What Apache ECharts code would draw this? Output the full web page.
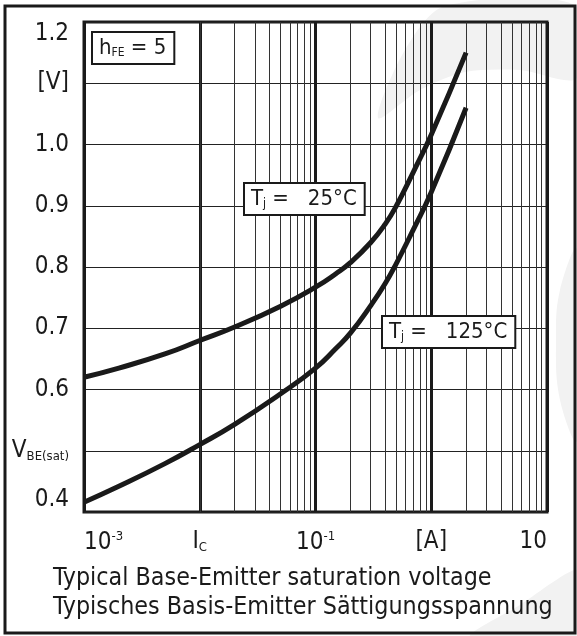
<!DOCTYPE html>
<html>
<head>
<meta charset="utf-8">
<script src="https://cdn.jsdelivr.net/npm/echarts@6/dist/echarts.min.js"></script>
<style>
  html, body { margin: 0; padding: 0; background: #fff; }
  #chart { width: 577px; height: 636px; }
</style>
</head>
<body>
<div id="chart"></div>
<script>
// collector current Ic [A], base-emitter saturation voltage [V]
var current25 = [0.001, 0.002, 0.005, 0.01, 0.02, 0.05, 0.1, 0.15, 0.2, 0.3, 0.4, 0.5, 0.7, 1.0, 2.0];
var vbe25     = [0.620, 0.635, 0.658, 0.680, 0.702, 0.736, 0.767, 0.789, 0.807, 0.840, 0.870, 0.900, 0.955, 1.016, 1.150];
var current125 = [0.001, 0.002, 0.005, 0.01, 0.02, 0.05, 0.1, 0.15, 0.2, 0.3, 0.4, 0.5, 0.7, 1.0, 2.0];
var vbe125     = [0.416, 0.442, 0.479, 0.510, 0.543, 0.593, 0.635, 0.667, 0.692, 0.737, 0.773, 0.806, 0.861, 0.922, 1.060];

var xTickLabels = ['{b|10}{sup|-3}', '{b|I}{sub|C}', '{b|10}{sup|-1}', '{b|[A]}', '{b|10}'];
var yTickLabels = ['0.4', '{b|V}{sub|BE(sat)}', '0.6', '0.7', '0.8', '0.9', '1.0', '[V]', '1.2'];
var minorX = [];
[0.001, 0.01, 0.1, 1].forEach(function (d) {
    for (var k = 2; k <= 9; k++) minorX.push(+(d * k).toPrecision(3));
});

var font = '"DejaVu Sans Condensed", "DejaVu Sans", sans-serif';
var ink = '#1a1a1a';
var shade = '#f2f2f2';

function pairs(xs, ys) {
    return xs.map(function (x, i) { return [x, ys[i]]; });
}

function boxLabel(text, left, top) {
    return {
        type: 'text', z: 100, left: left, top: top,
        style: {
            text: text,
            backgroundColor: '#fff', borderColor: ink, borderWidth: 2,
            padding: [4, 7, 4, 6],
            rich: {
                b: { fontSize: 22, fontFamily: font, fill: ink },
                s: { fontSize: 12, fontFamily: font, fill: ink, verticalAlign: 'bottom', padding: [9, 0, 0, 0] }
            }
        }
    };
}

var chart = echarts.init(document.getElementById('chart'), null, { renderer: 'canvas' });

var option = {
    backgroundColor: '#fff',
    animation: false,
    textStyle: { fontFamily: font, color: ink },
    grid: {
        left: 84, right: 30, top: 22, bottom: 124,
        show: true, borderColor: ink, borderWidth: 3, backgroundColor: 'transparent'
    },
    xAxis: {
        type: 'log', logBase: 10, min: 0.001, max: 10,
        axisLine: { show: false },
        axisTick: { show: false },
        splitLine: { show: true, lineStyle: { color: ink, width: 3 } },
        axisLabel: {
            margin: 18,
            alignMinLabel: 'left',
            alignMaxLabel: 'right',
            formatter: function (v) {
                var i = Math.round(Math.log10(v)) + 3;
                return xTickLabels[i] || '';
            },
            rich: {
                b: { fontSize: 24, fontFamily: font, color: ink },
                sup: { fontSize: 13, fontFamily: font, color: ink, verticalAlign: 'top', padding: [0, 0, 12, 0] },
                sub: { fontSize: 13, fontFamily: font, color: ink, verticalAlign: 'bottom', padding: [10, 0, 0, 0] }
            }
        }
    },
    yAxis: {
        type: 'value', min: 0.4, max: 1.2, interval: 0.1,
        axisLine: { show: false },
        axisTick: { show: false },
        splitLine: { show: true, lineStyle: { color: '#222', width: 1 } },
        axisLabel: {
            margin: 15,
            fontSize: 24,
            color: ink,
            verticalAlignMinLabel: 'bottom',
            verticalAlignMaxLabel: 'top',
            formatter: function (v) {
                var i = Math.round((v - 0.4) * 10);
                return yTickLabels[i];
            },
            rich: {
                b: { fontSize: 24, fontFamily: font, color: ink },
                sub: { fontSize: 13, fontFamily: font, color: ink, verticalAlign: 'bottom', padding: [10, 0, 0, 0] }
            }
        }
    },
    series: [
        {
            type: 'line', data: [], z: 1, silent: true,
            markLine: {
                silent: true, symbol: 'none', animation: false,
                label: { show: false },
                lineStyle: { color: '#333', width: 1, type: 'solid' },
                data: minorX.map(function (v) { return { xAxis: v }; })
            }
        },
        {
            name: 'Tj = 25°C', type: 'line', smooth: 0.5, showSymbol: false, z: 5,
            lineStyle: { color: ink, width: 5 },
            data: pairs(current25, vbe25)
        },
        {
            name: 'Tj = 125°C', type: 'line', smooth: 0.5, showSymbol: false, z: 5,
            lineStyle: { color: ink, width: 5 },
            data: pairs(current125, vbe125)
        }
    ],
    graphic: [
        // faint background watermark
        {
            type: 'polygon', z: -10, silent: true,
            shape: { points: [[378, 118], [405, 50], [445, 6], [577, 6], [577, 78], [520, 70], [465, 72], [420, 90]], smooth: 0.3 },
            style: { fill: shade }
        },
        {
            type: 'polygon', z: -10, silent: true,
            shape: { points: [[577, 250], [560, 290], [556, 340], [560, 400], [577, 440]], smooth: 0.4 },
            style: { fill: shade }
        },
        {
            type: 'polygon', z: -10, silent: true,
            shape: { points: [[470, 636], [520, 605], [577, 570], [577, 636]], smooth: 0.2 },
            style: { fill: shade }
        },
        {
            type: 'rect', z: 100, silent: true,
            shape: { x: 5, y: 6, width: 570, height: 627 },
            style: { fill: 'none', stroke: ink, lineWidth: 3 }
        },
        {
            type: 'text', z: 100, left: 53, top: 564,
            style: {
                text: 'Typical Base-Emitter saturation voltage\nTypisches Basis-Emitter Sättigungsspannung',
                font: '24.8px ' + font, fill: ink, lineHeight: 29
            }
        },
        boxLabel('{b|h}{s|FE}{b| = 5}', 91, 31),
        boxLabel('{b|T}{s|j}{b| =   25°C}', 243, 182),
        boxLabel('{b|T}{s|j}{b| =   125°C}', 381, 315)
    ]
};

chart.setOption(option);
</script>
</body>
</html>
